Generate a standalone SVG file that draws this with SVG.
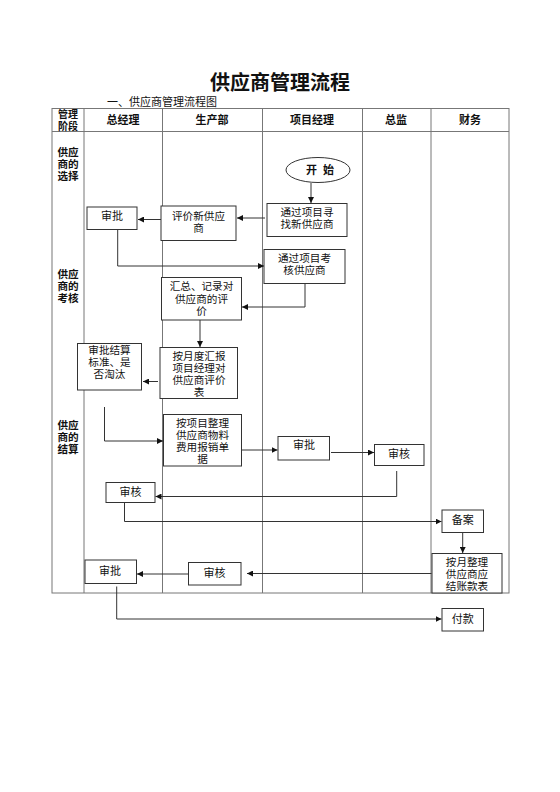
<svg xmlns="http://www.w3.org/2000/svg" width="560" height="792" viewBox="0 0 560 792">
<style>
text{font-family:"Liberation Sans","Noto Sans CJK SC",sans-serif;fill:#111;}
.t{font-size:11px;text-anchor:middle;}
.m{font-size:10.6px;text-anchor:middle;}
.h{font-size:10px;text-anchor:middle;}
.b{font-weight:bold;}
.box{fill:#fff;stroke:#333;stroke-width:1;}
.lane{stroke:#777;stroke-width:1;fill:none;}
.c{stroke:#333;stroke-width:1;fill:none;marker-end:url(#ah);}
</style>
<defs>
<marker id="ah" markerUnits="userSpaceOnUse" markerWidth="7" markerHeight="6" refX="6" refY="3" orient="auto">
<path d="M0,0 L6,3 L0,6 z" fill="#111"/>
</marker>
</defs>
<rect width="560" height="792" fill="#fff"/>
<text x="280" y="90" style="font-size:20px;text-anchor:middle" class="b">供应商管理流程</text>
<text x="107" y="106" style="font-size:11px">一、供应商管理流程图</text>
<g id="table">
<rect x="52" y="108.5" width="457" height="484.5" class="lane"/>
<line x1="52" y1="131.5" x2="509" y2="131.5" class="lane"/>
<line x1="84" y1="108.5" x2="84" y2="593" class="lane"/>
<line x1="162.5" y1="108.5" x2="162.5" y2="593" class="lane"/>
<line x1="262.5" y1="108.5" x2="262.5" y2="593" class="lane"/>
<line x1="362.5" y1="108.5" x2="362.5" y2="593" class="lane"/>
<line x1="431" y1="108.5" x2="431" y2="593" class="lane"/>
<text class="h b"><tspan x="68" y="118.3">管理</tspan><tspan x="68" y="129.7">阶段</tspan></text>
<text class="t b" x="123" y="124">总经理</text>
<text class="t b" x="212" y="124">生产部</text>
<text class="t b" x="312" y="124">项目经理</text>
<text class="t b" x="396" y="124">总监</text>
<text class="t b" x="470" y="124">财务</text>
<text class="m b"><tspan x="68" y="155.5">供应</tspan><tspan x="68" y="167.5">商的</tspan><tspan x="68" y="179.5">选择</tspan></text>
<text class="m b"><tspan x="68" y="277.5">供应</tspan><tspan x="68" y="289.5">商的</tspan><tspan x="68" y="301.5">考核</tspan></text>
<text class="m b"><tspan x="68" y="428.5">供应</tspan><tspan x="68" y="440.5">商的</tspan><tspan x="68" y="452.5">结算</tspan></text>
</g>
<g id="connectors">
<line x1="311" y1="183" x2="311" y2="203" class="c"/>
<line x1="265" y1="218" x2="237" y2="218" class="c"/>
<line x1="161" y1="219.5" x2="138" y2="219.5" class="c"/>
<polyline points="117.7,229.5 117.7,266 264,266" class="c"/>
<polyline points="305,283.5 305,307 242,307" class="c"/>
<line x1="200" y1="320" x2="200" y2="347" class="c"/>
<line x1="158" y1="381.5" x2="143" y2="381.5" class="c"/>
<polyline points="104.5,407 104.5,441 163,441" class="c"/>
<line x1="241.5" y1="450" x2="277.5" y2="450" class="c"/>
<line x1="331" y1="452.5" x2="374" y2="452.5" class="c"/>
<polyline points="396.7,471 396.7,496.5 155.5,496.5" class="c"/>
<polyline points="124.5,503 124.5,521.5 441.5,521.5" class="c"/>
<line x1="462.7" y1="532.5" x2="462.7" y2="553" class="c"/>
<line x1="431.5" y1="573.5" x2="247" y2="573.5" class="c"/>
<line x1="188.5" y1="574" x2="137" y2="574" class="c"/>
<polyline points="116.7,586.5 116.7,619 441.5,619" class="c"/>
</g>
<g id="n-start">
<ellipse cx="318" cy="170" rx="32" ry="12.5" class="box"/>
<text class="t b" x="320" y="174" xml:space="preserve">开  始</text>
</g>
<g id="n-find">
<rect x="267" y="203.5" width="80" height="33" class="box"/>
<text class="m"><tspan x="307" y="215.5">通过项目寻</tspan><tspan x="307" y="227.5">找新供应商</tspan></text>
</g>
<g id="n-eval">
<rect x="161" y="206" width="75" height="34.5" class="box"/>
<text class="m"><tspan x="198.5" y="219.5">评价新供应</tspan><tspan x="198.5" y="231.5">商</tspan></text>
</g>
<g id="n-approve1">
<rect x="87" y="207" width="50" height="22.5" class="box"/>
<text class="t" x="112" y="220">审批</text>
</g>
<g id="n-assess">
<rect x="264" y="249.5" width="81" height="34" class="box"/>
<text class="m"><tspan x="304.5" y="262">通过项目考</tspan><tspan x="304.5" y="274">核供应商</tspan></text>
</g>
<g id="n-summary">
<rect x="161.5" y="277.5" width="80" height="42.5" class="box"/>
<text class="m"><tspan x="201.5" y="290">汇总、记录对</tspan><tspan x="201.5" y="302.5">供应商的评</tspan><tspan x="201.5" y="315">价</tspan></text>
</g>
<g id="n-monthly-report">
<rect x="160" y="347.5" width="77.5" height="51" class="box"/>
<text class="m"><tspan x="199" y="359.5">按月度汇报</tspan><tspan x="199" y="371.5">项目经理对</tspan><tspan x="199" y="383.5">供应商评价</tspan><tspan x="199" y="395.5">表</tspan></text>
</g>
<g id="n-approve-standard">
<rect x="77.5" y="343.5" width="64" height="46.5" class="box"/>
<text class="m"><tspan x="109.5" y="354">审批结算</tspan><tspan x="109.5" y="366">标准、是</tspan><tspan x="109.5" y="378">否淘汰</tspan></text>
</g>
<g id="n-expense">
<rect x="163.5" y="414.5" width="78" height="51.5" class="box"/>
<text class="m"><tspan x="202.5" y="426.5">按项目整理</tspan><tspan x="202.5" y="438.5">供应商物料</tspan><tspan x="202.5" y="450.5">费用报销单</tspan><tspan x="202.5" y="462.5">据</tspan></text>
</g>
<g id="n-approve-pm">
<rect x="278" y="436.5" width="51.5" height="23.5" class="box"/>
<text class="t" x="304" y="449">审批</text>
</g>
<g id="n-review-director">
<rect x="374.5" y="444.5" width="49.5" height="21" class="box"/>
<text class="t" x="399" y="457.5">审核</text>
</g>
<g id="n-review-gm">
<rect x="106" y="482.5" width="49" height="20" class="box"/>
<text class="t" x="130.5" y="495.7">审核</text>
</g>
<g id="n-file">
<rect x="442" y="510" width="41.5" height="22.5" class="box"/>
<text class="t" x="462.7" y="524">备案</text>
</g>
<g id="n-monthly-payable">
<rect x="432" y="553.5" width="70" height="39.5" class="box"/>
<text class="m"><tspan x="467" y="566">按月整理</tspan><tspan x="467" y="578">供应商应</tspan><tspan x="467" y="590">结账款表</tspan></text>
</g>
<g id="n-review-prod">
<rect x="188.5" y="562.5" width="52.5" height="22.5" class="box"/>
<text class="t" x="214.5" y="576.5">审核</text>
</g>
<g id="n-approve-gm2">
<rect x="85" y="560" width="51.5" height="23.5" class="box"/>
<text class="t" x="110" y="575">审批</text>
</g>
<g id="n-pay">
<rect x="442" y="608.5" width="41.5" height="22.5" class="box"/>
<text class="t" x="462.7" y="623">付款</text>
</g>
</svg>
